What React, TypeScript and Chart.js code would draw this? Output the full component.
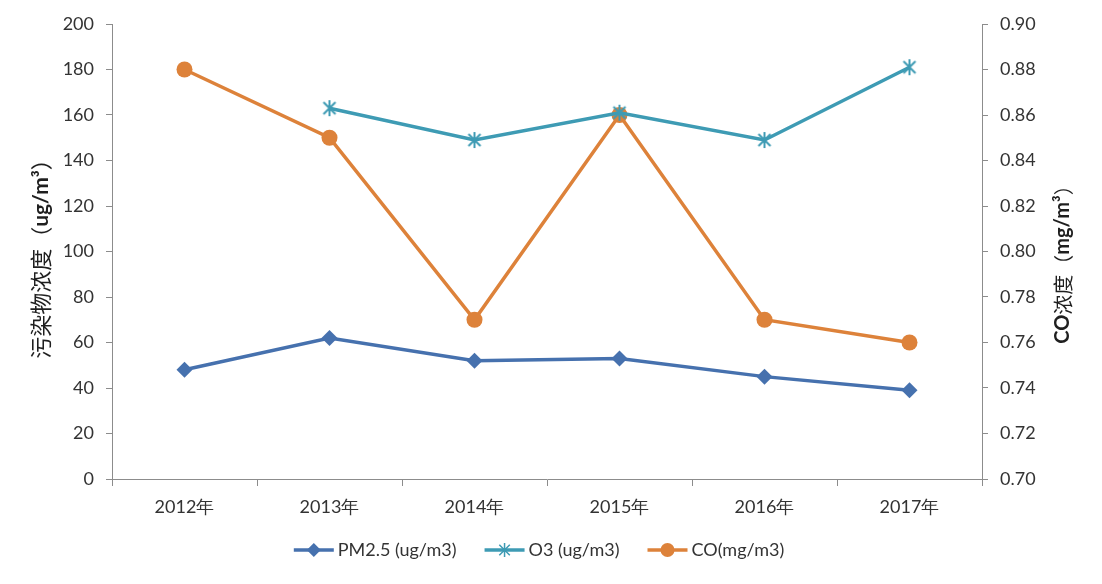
import React, { useEffect, useRef } from "react";
import { Chart, registerables } from "chart.js";

Chart.register(...registerables);

const categories = ["2012年", "2013年", "2014年", "2015年", "2016年", "2017年"];
const pm25 = [48, 62, 52, 53, 45, 39];
const o3 = [null, 163, 149, 161, 149, 181];
const co = [0.88, 0.85, 0.77, 0.86, 0.77, 0.76];
const seriesLabels = ["PM2.5 (ug/m3)", "O3 (ug/m3)", "CO(mg/m3)"];

const PM_COLOR = "#4671AE";
const O3_COLOR = "#3E9BB4";
const CO_COLOR = "#DD823A";
const AXIS_COLOR = "#8C8C8C";
const TEXT_COLOR = "#333333";
const FONT = "Lato, 'Noto Sans', sans-serif";
const CJK = "'Noto Sans CJK SC', sans-serif";

function makeStar(color: string, r: number, lw: number) {
  const s = Math.ceil(r * 2 + lw * 2);
  const c = document.createElement("canvas");
  c.width = s;
  c.height = s;
  const ctx = c.getContext("2d")!;
  const cx = s / 2;
  ctx.strokeStyle = color;
  ctx.lineWidth = lw;
  ctx.beginPath();
  ctx.moveTo(cx, cx - r);
  ctx.lineTo(cx, cx + r);
  const d = r * 0.75;
  ctx.moveTo(cx - d, cx - d);
  ctx.lineTo(cx + d, cx + d);
  ctx.moveTo(cx + d, cx - d);
  ctx.lineTo(cx - d, cx + d);
  ctx.stroke();
  return c;
}

function drawMarker(ctx: CanvasRenderingContext2D, kind: string, x: number, y: number, color: string) {
  ctx.save();
  ctx.fillStyle = color;
  ctx.strokeStyle = color;
  if (kind === "diamond") {
    const r = 7;
    ctx.beginPath();
    ctx.moveTo(x, y - r);
    ctx.lineTo(x + r, y);
    ctx.lineTo(x, y + r);
    ctx.lineTo(x - r, y);
    ctx.closePath();
    ctx.fill();
  } else if (kind === "circle") {
    ctx.beginPath();
    ctx.arc(x, y, 7, 0, Math.PI * 2);
    ctx.fill();
  } else {
    const r = 7;
    const d = r * 0.75;
    ctx.lineWidth = 1.5;
    ctx.beginPath();
    ctx.moveTo(x, y - r);
    ctx.lineTo(x, y + r);
    ctx.moveTo(x - d, y - d);
    ctx.lineTo(x + d, y + d);
    ctx.moveTo(x + d, y - d);
    ctx.lineTo(x - d, y + d);
    ctx.stroke();
  }
  ctx.restore();
}

type Seg = { t: string; f: string };

function drawRotatedTitle(ctx: CanvasRenderingContext2D, segs: Seg[], cx: number, cy: number) {
  ctx.save();
  let total = 0;
  const widths = segs.map((s) => {
    ctx.font = s.f;
    const w = ctx.measureText(s.t).width;
    total += w;
    return w;
  });
  ctx.translate(cx, cy);
  ctx.rotate(-Math.PI / 2);
  ctx.textBaseline = "middle";
  ctx.textAlign = "left";
  ctx.fillStyle = "#1f1f1f";
  let x = -total / 2;
  segs.forEach((s, i) => {
    ctx.font = s.f;
    ctx.fillText(s.t, x, 0);
    x += widths[i];
  });
  ctx.restore();
}

const overlayPlugin = {
  id: "overlay",
  afterDraw(chart: any) {
    const ctx: CanvasRenderingContext2D = chart.ctx;
    const area = chart.chartArea;
    const midY = (area.top + area.bottom) / 2;
    drawRotatedTitle(
      ctx,
      [
        { t: "污染物浓度（", f: `22px ${CJK}` },
        { t: "ug/m³", f: `bold 21px ${FONT}` },
        { t: "）", f: `22px ${CJK}` },
      ],
      41,
      midY + 2
    );
    drawRotatedTitle(
      ctx,
      [
        { t: "CO", f: `bold 20px ${FONT}` },
        { t: "浓度（", f: `20px ${CJK}` },
        { t: "mg/m³", f: `bold 20px ${FONT}` },
        { t: "）", f: `20px ${CJK}` },
      ],
      1063,
      midY + 8
    );
    const items = [
      { label: seriesLabels[0], color: PM_COLOR, kind: "diamond" },
      { label: seriesLabels[1], color: O3_COLOR, kind: "star" },
      { label: seriesLabels[2], color: CO_COLOR, kind: "circle" },
    ];
    ctx.save();
    ctx.font = `18px ${FONT}`;
    const lineLen = 40;
    const gapText = 4;
    const gapItem = 28;
    const widths = items.map((it) => lineLen + gapText + ctx.measureText(it.label).width);
    const total = widths.reduce((a, b) => a + b, 0) + gapItem * (items.length - 1);
    let x = chart.width / 2 - 12 - total / 2;
    const y = 550;
    items.forEach((it, i) => {
      ctx.strokeStyle = it.color;
      ctx.lineWidth = 3.5;
      ctx.beginPath();
      ctx.moveTo(x, y);
      ctx.lineTo(x + lineLen, y);
      ctx.stroke();
      drawMarker(ctx, it.kind, x + lineLen / 2, y, it.color);
      ctx.fillStyle = TEXT_COLOR;
      ctx.textBaseline = "middle";
      ctx.textAlign = "left";
      ctx.fillText(it.label, x + lineLen + gapText, y);
      x += widths[i] + gapItem;
    });
    ctx.restore();
  },
};

export default function App() {
  const ref = useRef<HTMLCanvasElement | null>(null);
  useEffect(() => {
    document.body.style.margin = "0";
    const star = makeStar(O3_COLOR, 8, 2);
    const chart = new Chart(ref.current!, {
      type: "line",
      data: {
        labels: categories,
        datasets: [
          {
            label: seriesLabels[0],
            data: pm25,
            borderColor: PM_COLOR,
            backgroundColor: PM_COLOR,
            borderWidth: 3.5,
            pointStyle: "rectRot",
            pointRadius: 8,
            pointBorderWidth: 0,
            yAxisID: "y",
          },
          {
            label: seriesLabels[1],
            data: o3,
            borderColor: O3_COLOR,
            backgroundColor: O3_COLOR,
            borderWidth: 3.5,
            pointStyle: star as any,
            pointRadius: 8,
            yAxisID: "y",
          },
          {
            label: seriesLabels[2],
            data: co,
            borderColor: CO_COLOR,
            backgroundColor: CO_COLOR,
            borderWidth: 3.5,
            pointStyle: "circle",
            pointRadius: 8,
            pointBorderWidth: 0,
            yAxisID: "y1",
          },
        ],
      },
      options: {
        animation: false,
        responsive: false,
        devicePixelRatio: 1,
        layout: { padding: { top: 24, left: 0, right: 0, bottom: 0 } },
        plugins: { legend: { display: false }, tooltip: { enabled: false } },
        scales: {
          x: {
            offset: true,
            grid: {
              display: true,
              offset: true,
              drawOnChartArea: false,
              tickLength: 7,
              color: AXIS_COLOR,
            },
            border: { display: true, color: AXIS_COLOR },
            ticks: { color: TEXT_COLOR, font: { family: FONT, size: 18 }, padding: 10 },
            afterFit: (s: any) => {
              s.height = 105;
            },
          },
          y: {
            position: "left",
            min: 0,
            max: 200,
            ticks: {
              stepSize: 20,
              color: TEXT_COLOR,
              font: { family: FONT, size: 18 },
              padding: 12,
            },
            grid: { display: true, drawOnChartArea: false, tickLength: 6, color: AXIS_COLOR },
            border: { display: true, color: AXIS_COLOR },
            afterFit: (s: any) => {
              s.width = 112;
            },
          },
          y1: {
            position: "right",
            min: 0.7,
            max: 0.9,
            ticks: {
              stepSize: 0.02,
              color: TEXT_COLOR,
              font: { family: FONT, size: 18 },
              padding: 12,
              callback: (v: any) => Number(v).toFixed(2),
            },
            grid: { display: true, drawOnChartArea: false, tickLength: 6, color: AXIS_COLOR },
            border: { display: true, color: AXIS_COLOR },
            afterFit: (s: any) => {
              s.width = 120;
            },
          },
        },
      },
      plugins: [overlayPlugin],
    });
    return () => chart.destroy();
  }, []);
  return (
    <div style={{ width: 1102, height: 584, background: "#fff" }}>
      <canvas ref={ref} width={1102} height={584} style={{ width: 1102, height: 584, display: "block" }} />
    </div>
  );
}
